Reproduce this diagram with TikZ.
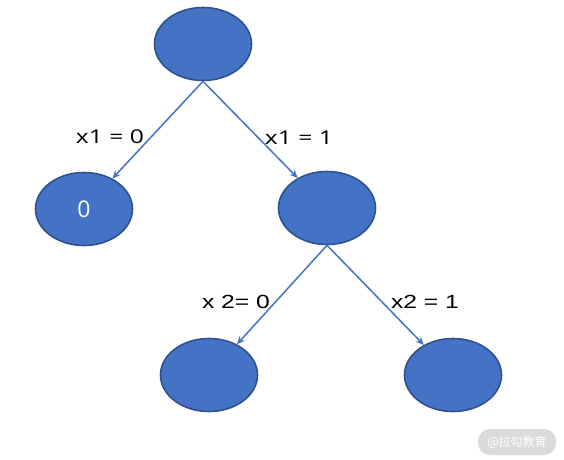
\documentclass[tikz,border=0pt]{standalone}
\usepackage{fontspec}
\usepackage{graphicx}
\setmainfont{Open Sans}
\newfontfamily\arialfont{Liberation Sans}
\newfontfamily\cjkfont{Noto Sans CJK SC}
\usetikzlibrary{shapes.geometric,arrows.meta}
\definecolor{nodeblue}{HTML}{4472C4}
\definecolor{nodeedge}{HTML}{2F528F}
\newcommand{\widetext}[1]{\scalebox{1.3}[1]{#1}}

\begin{document}
\begin{tikzpicture}[x=1pt,y=-1pt,
  leaf/.style={ellipse,draw=nodeedge,fill=nodeblue,line width=1.6pt,
    minimum width=97pt,minimum height=73pt,inner sep=0pt},
  branch/.style={draw=nodeblue,line width=1.5pt,-{Stealth[length=8pt,width=7pt]}},
  cond/.style={font=\fontsize{19}{19}\selectfont,inner sep=0pt}]
\useasboundingbox (0,0) rectangle (564,459);
%
\node[leaf] (root) at (203,44) {};
\node[leaf,text=white,font=\fontsize{23}{23}\selectfont] (zero) at (84,209) {0};
\node[leaf] (right) at (327,208) {};
\node[leaf] (rl) at (209,375) {};
\node[leaf] (rr) at (453,375) {};

\draw[branch] (root.south) -- (zero);
\draw[branch] (root.south) -- (right);
\draw[branch] (right.south) -- (rl);
\draw[branch] (right.south) -- (rr);

\node[cond] (c1) at (110,137) {\widetext{x1 = 0}};
\node[cond] (c2) at (299,138) {\widetext{x1 = 1}};
\node[cond,font=\arialfont\fontsize{19}{19}\selectfont] (c3) at (236,302) {\widetext{x 2= 0}};
\node[cond,font=\arialfont\fontsize{19}{19}\selectfont] (c4) at (425,302) {\widetext{x2 = 1}};

% watermark
\node[fill=black!14,rounded corners=12pt,minimum width=78pt,minimum height=26pt,
  inner sep=0pt,text=white,font=\cjkfont\fontsize{12}{12}\selectfont] (mark) at (517,442) {@拉勾教育};
\end{tikzpicture}
\end{document}
